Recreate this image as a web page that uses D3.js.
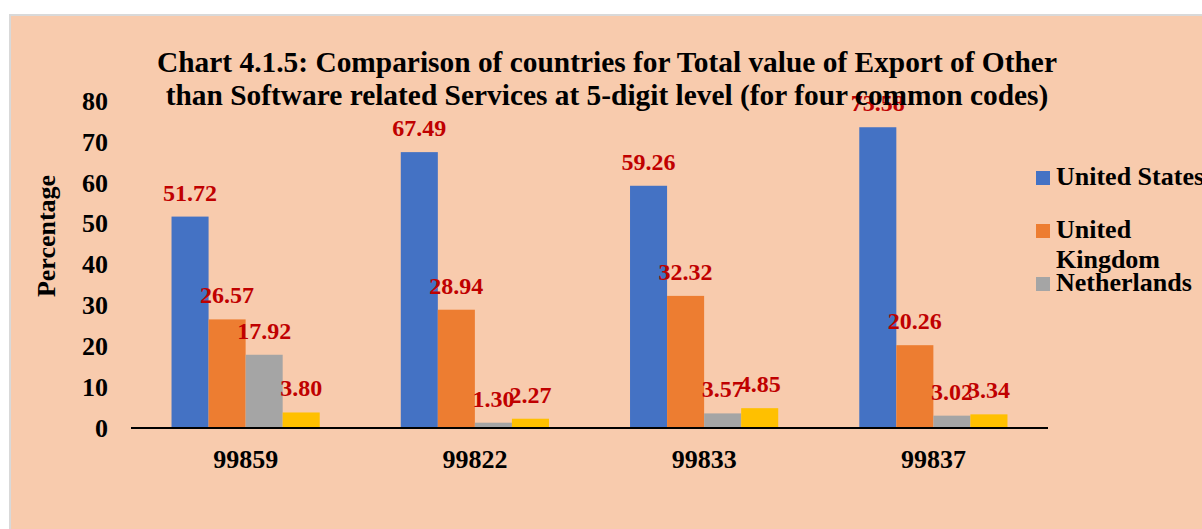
<!DOCTYPE html>
<html>
<head>
<meta charset="utf-8">
<script src="https://cdn.jsdelivr.net/npm/d3@7"></script>
<style>
  html, body { margin: 0; padding: 0; background: #ffffff; }
  svg { display: block; }
  text { font-family: "Liberation Serif", "Times New Roman", serif; font-weight: bold; }
</style>
</head>
<body>
<svg id="chart" width="1202" height="529"></svg>
<script>
// ---- data ----
const categories = ["99859", "99822", "99833", "99837"];
const seriesNames = ["United States", "United Kingdom", "Netherlands", "Other"];
const unitedStates = [51.72, 67.49, 59.26, 73.58];
const unitedKingdom = [26.57, 28.94, 32.32, 20.26];
const netherlands = [17.92, 1.30, 3.57, 3.02];
const other = [3.80, 2.27, 4.85, 3.34];
const yTicks = [0, 10, 20, 30, 40, 50, 60, 70, 80];
const titleLines = [
  "Chart 4.1.5: Comparison of countries for Total value of Export of Other",
  "than Software related Services at 5-digit level (for four common codes)"
];
const yAxisTitle = "Percentage";

const seriesValues = [unitedStates, unitedKingdom, netherlands, other];
const colors = ["#4472C4", "#ED7D31", "#A5A5A5", "#FFC000"];

const svg = d3.select("#chart");

// chart area background with border
svg.append("rect")
  .attr("x", 10).attr("y", 15)
  .attr("width", 1250).attr("height", 600)
  .attr("fill", "#F8CBAD")
  .attr("stroke", "#D9D9D9").attr("stroke-width", 2);

const x = d3.scaleBand().domain(categories).range([131, 1048]).paddingInner(0).paddingOuter(0);
const y = d3.scaleLinear().domain([0, 80]).range([428, 101]);

const bw = x.bandwidth();
const barW = bw * 0.1616;
const inner = d3.scaleBand().domain(d3.range(seriesNames.length))
  .range([bw / 2 - 2 * barW, bw / 2 + 2 * barW]).padding(0);

// bars
seriesValues.forEach((vals, si) => {
  svg.append("g").selectAll("rect")
    .data(vals)
    .join("rect")
    .attr("x", (d, i) => x(categories[i]) + inner(si))
    .attr("y", d => y(d))
    .attr("width", inner.bandwidth())
    .attr("height", d => y(0) - y(d))
    .attr("fill", colors[si]);
});

// axis line
svg.append("line")
  .attr("x1", 131).attr("x2", 1048)
  .attr("y1", y(0)).attr("y2", y(0))
  .attr("stroke", "#000").attr("stroke-width", 2);

// y tick labels
svg.append("g").selectAll("text")
  .data(yTicks)
  .join("text")
  .attr("x", 108)
  .attr("y", d => y(d))
  .attr("dy", "0.34em")
  .attr("text-anchor", "end")
  .attr("font-size", 26)
  .attr("fill", "#000")
  .text(d => d);

// x labels
svg.append("g").selectAll("text")
  .data(categories)
  .join("text")
  .attr("x", d => x(d) + bw / 2)
  .attr("y", 468)
  .attr("text-anchor", "middle")
  .attr("font-size", 26)
  .attr("fill", "#000")
  .text(d => d);

// y axis title
svg.append("text")
  .attr("transform", "translate(55,236) rotate(-90)")
  .attr("text-anchor", "middle")
  .attr("font-size", 26)
  .attr("fill", "#000")
  .text(yAxisTitle);

// data labels
seriesValues.forEach((vals, si) => {
  svg.append("g").selectAll("text")
    .data(vals)
    .join("text")
    .attr("x", (d, i) => x(categories[i]) + inner(si) + inner.bandwidth() / 2)
    .attr("y", d => y(d) - 16)
    .attr("text-anchor", "middle")
    .attr("font-size", 24)
    .attr("fill", "#C00000")
    .text(d => d.toFixed(2));
});

// title
svg.append("g").selectAll("text")
  .data(titleLines)
  .join("text")
  .attr("x", 607)
  .attr("y", (d, i) => 72 + i * 33)
  .attr("text-anchor", "middle")
  .attr("font-size", 29.4)
  .attr("fill", "#000")
  .text(d => d);

// legend (only the first three entries are visible in the reference)
const legendItems = [
  { idx: 0, sq: 171, lines: ["United States"], base: 185 },
  { idx: 1, sq: 224, lines: ["United", "Kingdom"], base: 238 },
  { idx: 2, sq: 277, lines: ["Netherlands"], base: 291 }
];
const lg = svg.append("g");
legendItems.forEach(it => {
  lg.append("rect")
    .attr("x", 1036).attr("y", it.sq)
    .attr("width", 14).attr("height", 14)
    .attr("fill", colors[it.idx]);
  it.lines.forEach((ln, k) => {
    lg.append("text")
      .attr("x", 1056)
      .attr("y", it.base + k * 30)
      .attr("font-size", 26)
      .attr("fill", "#000")
      .text(ln);
  });
});
</script>
</body>
</html>
